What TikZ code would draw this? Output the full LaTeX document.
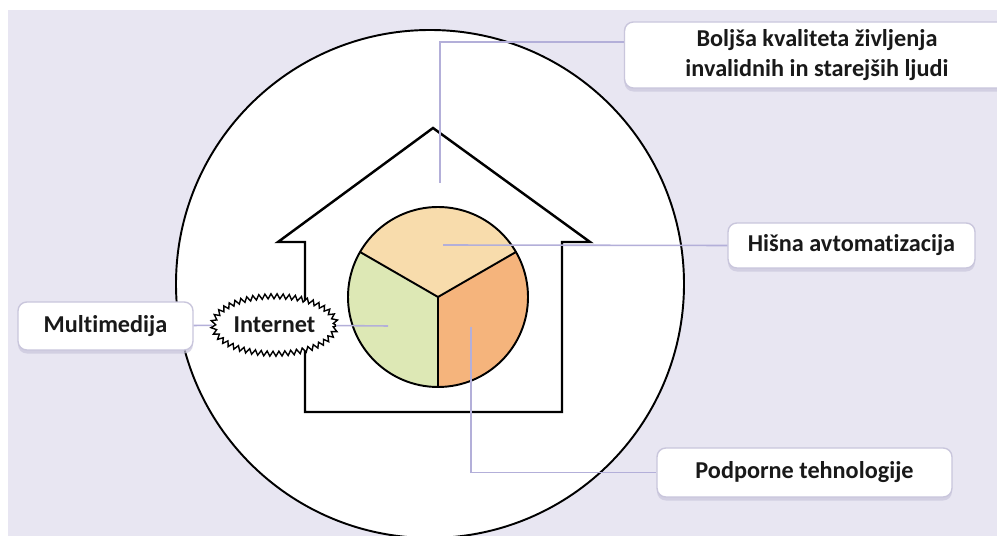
\documentclass[tikz,border=0pt]{standalone}
\usepackage{fontspec}
\setmainfont[Ligatures=NoCommon]{Carlito}
\usetikzlibrary{shapes.geometric,decorations.pathmorphing,shadows}
\definecolor{fond}{HTML}{E8E6F2}
\definecolor{lien}{HTML}{B3AFD9}
\definecolor{bord}{HTML}{C9C6DC}
\definecolor{peche}{HTML}{F8DCAC}
\definecolor{vert}{HTML}{DDE8B5}
\definecolor{orange}{HTML}{F5B47C}
\newcommand{\Sector}[3]%
% start angle, end angle, color
{   \fill[#3] (pie.center) -- ++(#1:90) arc[start angle=#1, end angle=#2, radius=90] -- cycle; }
\begin{document}
\begin{tikzpicture}
[   x=0.02cm, y=0.02cm,
    label/.style={rectangle, rounded corners=5pt, draw=bord, line width=0.8pt, fill=white,
        text=black!90, font=\fontsize{13.8}{17}\selectfont\bfseries, align=center, inner sep=0,
        drop shadow={shadow xshift=0pt, shadow yshift=-2pt, fill=bord, opacity=.7}},
    cloud/.style={ellipse, draw, fill=white, line width=0.8pt, inner sep=0,
        minimum width=2.45cm, minimum height=1.15cm,
        font=\fontsize{13.8}{17}\selectfont\bfseries, text=black!90,
        decorate, decoration={zigzag, segment length=0.12cm, amplitude=0.05cm}},
    link/.style={draw=lien, line width=0.9pt}
]
    \useasboundingbox (0,0) rectangle (997,-536);
    \clip (0,0) rectangle (997,-536);
    \fill[fond] (8,-10) rectangle (997,-536);

    % grand cercle
    \draw[fill=white, line width=1.1pt] (430,-284) circle[radius=254];

    % maison
    \draw[line width=1.4pt, line join=miter]
        (305,-412) -- (305,-242) -- (278,-242) -- (433,-128)
        -- (590,-242) -- (562,-242) -- (562,-412) -- cycle;

    % secteurs
    \node[circle, minimum size=3.6cm, inner sep=0] (pie) at (438,-297) {};
    \Sector{30}{150}{peche}
    \Sector{150}{270}{vert}
    \Sector{270}{390}{orange}
    \foreach \a in {30,150,270}
        \draw[line width=1.1pt] (pie.center) -- ++(\a:90);
    \draw[line width=1.1pt] (pie.center) circle[radius=90];

    % bulles
    \node[label, minimum width=7.7cm, minimum height=1.32cm] (boljsa) at (817,-55)
        {Boljša kvaliteta življenja\\invalidnih in starejših ljudi};
    \node[label, minimum width=4.94cm, minimum height=0.9cm] (hisna) at (851.5,-245.5)
        {Hišna avtomatizacija};
    \node[label, minimum width=5.9cm, minimum height=0.98cm] (podporne) at (804.5,-472.5)
        {Podporne tehnologije};
    \node[label, minimum width=3.5cm, minimum height=0.96cm] (multi) at (105.5,-326)
        {Multimedija};
    \node[cloud] (internet) at (274.5,-325) {Internet};

    % liaisons
    \coordinate (qtop) at (440,-183);
    \coordinate (qhisna) at (443,-245);
    \coordinate (qnet) at (388,-326);
    \coordinate (qpod) at (471,-327);
    \draw[link] (qtop) |- ([yshift=0.26cm]boljsa.west);
    \draw[link] (qhisna) -- (hisna.west);
    \draw[link] (qnet) -- (internet);
    \draw[link] (multi) -- (internet);
    \draw[link] (qpod) |- (podporne.west);
\end{tikzpicture}
\end{document}
